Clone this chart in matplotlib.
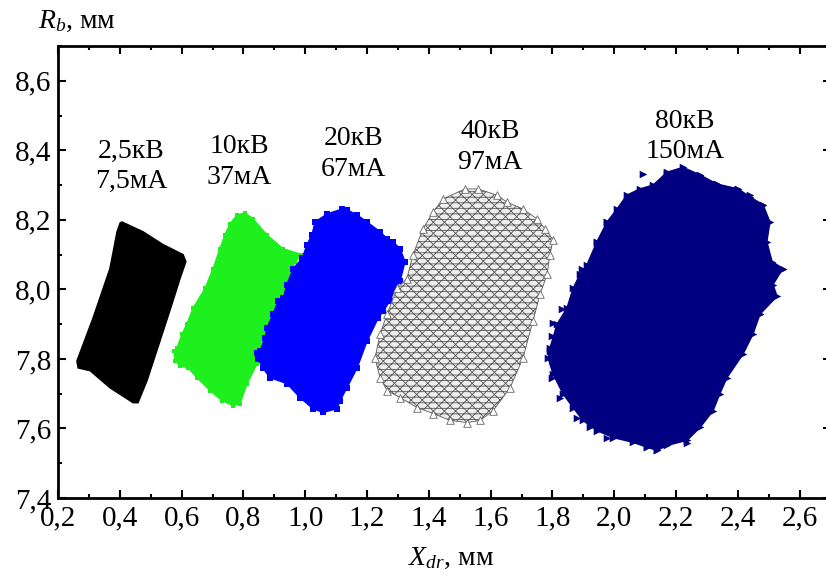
import matplotlib
matplotlib.use("Agg")
import matplotlib.pyplot as plt
from matplotlib.ticker import MultipleLocator, FuncFormatter

plt.rcParams['font.family'] = ['Liberation Serif', 'DejaVu Serif']
plt.rcParams['mathtext.fontset'] = 'custom'
plt.rcParams['mathtext.rm'] = 'Liberation Serif'
plt.rcParams['mathtext.it'] = 'Liberation Serif:italic'
plt.rcParams['hatch.linewidth'] = 0.6

# Outlines of each beam spot (X_dr, R_b).
x_25kv = [0.407, 0.475, 0.540, 0.605, 0.614, 0.595, 0.572, 0.530, 0.488, 0.459,
          0.443, 0.368, 0.304, 0.265, 0.261, 0.313, 0.368, 0.391, 0.401]
y_25kv = [8.194, 8.166, 8.129, 8.100, 8.080, 8.031, 7.966, 7.851, 7.737, 7.674,
          7.674, 7.717, 7.766, 7.774, 7.794, 7.917, 8.060, 8.166, 8.191]

x_10kv = [0.805, 0.779, 0.757, 0.740, 0.724, 0.702, 0.676, 0.637, 0.617, 0.601,
          0.585, 0.575, 0.579, 0.595, 0.621, 0.650, 0.692, 0.731, 0.766, 0.789,
          0.812, 0.844, 0.863, 0.918, 0.967, 0.990, 0.928, 0.876, 0.831]
y_10kv = [8.220, 8.214, 8.189, 8.157, 8.117, 8.060, 8.003, 7.946, 7.900, 7.871,
          7.831, 7.823, 7.794, 7.780, 7.774, 7.746, 7.709, 7.680, 7.666, 7.671,
          7.729, 7.786, 7.831, 7.966, 8.080, 8.100, 8.117, 8.157, 8.203]

x_20kv = [1.119, 1.071, 1.032, 1.022, 1.006, 0.990, 0.961, 0.941, 0.928, 0.912,
          0.896, 0.876, 0.870, 0.854, 0.844, 0.847, 0.863, 0.886, 0.941, 0.983,
          1.025, 1.058, 1.103, 1.113, 1.135, 1.168, 1.200, 1.236, 1.252, 1.274,
          1.291, 1.307, 1.323, 1.307, 1.284, 1.265, 1.242, 1.200, 1.168, 1.135]
y_20kv = [8.231, 8.217, 8.194, 8.157, 8.129, 8.089, 8.060, 8.014, 7.974, 7.966,
          7.929, 7.889, 7.860, 7.823, 7.817, 7.800, 7.774, 7.746, 7.729, 7.689,
          7.657, 7.646, 7.657, 7.680, 7.717, 7.774, 7.851, 7.917, 7.937, 7.966,
          8.003, 8.023, 8.080, 8.117, 8.137, 8.146, 8.166, 8.194, 8.214, 8.229]

x_40kv = [1.517, 1.559, 1.621, 1.653, 1.705, 1.750, 1.776, 1.802, 1.792, 1.783,
          1.760, 1.737, 1.705, 1.663, 1.608, 1.566, 1.524, 1.469, 1.414, 1.362,
          1.307, 1.265, 1.242, 1.226, 1.242, 1.265, 1.297, 1.329, 1.349, 1.381,
          1.414, 1.446]
y_40kv = [8.289, 8.289, 8.271, 8.251, 8.231, 8.203, 8.174, 8.143, 8.100, 8.043,
          7.986, 7.909, 7.803, 7.717, 7.651, 7.623, 7.617, 7.623, 7.643, 7.660,
          7.689, 7.709, 7.746, 7.803, 7.871, 7.929, 8.003, 8.031, 8.100, 8.174,
          8.223, 8.260]

x_80kv = [2.223, 2.278, 2.333, 2.401, 2.440, 2.482, 2.504, 2.494, 2.511, 2.546,
          2.514, 2.527, 2.472, 2.449, 2.417, 2.365, 2.342, 2.320, 2.278, 2.236,
          2.171, 2.139, 2.106, 2.061, 1.996, 1.944, 1.899, 1.867, 1.834, 1.802,
          1.786, 1.792, 1.815, 1.847, 1.867, 1.889, 1.912, 1.944, 1.977, 2.009,
          2.041, 2.083, 2.126, 2.171]
y_80kv = [8.351, 8.329, 8.303, 8.289, 8.266, 8.243, 8.194, 8.137, 8.080, 8.060,
          8.014, 7.980, 7.929, 7.871, 7.814, 7.746, 7.700, 7.651, 7.603, 7.566,
          7.551, 7.537, 7.546, 7.560, 7.574, 7.594, 7.623, 7.660, 7.700, 7.757,
          7.803, 7.831, 7.900, 7.946, 8.003, 8.043, 8.071, 8.137, 8.194, 8.231,
          8.271, 8.289, 8.300, 8.337]

# Stray points around the 80 kV spot
x_80kv_stray = [2.093, 2.171, 2.278, 2.333, 2.401, 2.440, 2.482, 2.494, 2.546,
                2.521, 2.472, 1.977, 1.944, 1.896, 1.889, 1.831, 1.802, 1.799,
                1.834, 1.792, 1.802, 1.799, 1.825, 1.880, 1.922, 1.977, 2.236,
                2.139, 2.106]
y_80kv_stray = [8.331, 8.331, 8.329, 8.303, 8.289, 8.271, 8.243, 8.194, 8.060,
                7.980, 7.929, 8.194, 8.137, 8.060, 8.003, 7.943, 7.903, 7.866,
                7.851, 7.823, 7.794, 7.746, 7.689, 7.629, 7.603, 7.574, 7.557,
                7.537, 7.546]

labels = ["2,5кВ\n7,5мА", "10кВ\n37мА", "20кВ\n67мА", "40кВ\n97мА", "80кВ\n150мА"]
label_x = [0.436, 0.786, 1.155, 1.598, 2.229]
label_y = [8.354, 8.366, 8.389, 8.409, 8.440]

fig = plt.figure(figsize=(8.26, 5.77), dpi=100)
ax = fig.add_axes([58 / 826, 1 - 498 / 577, (830.5 - 58) / 826, (498 - 46) / 577])

ax.fill(x_25kv, y_25kv, color='black', lw=1, zorder=2)
ax.fill(x_10kv, y_10kv, color='#1ef01e', lw=1, zorder=3)
ax.scatter(x_10kv, y_10kv, marker='s', s=12, color='#1ef01e', lw=0, zorder=3)
ax.fill(x_20kv, y_20kv, color='#0000ff', lw=1, zorder=4)
ax.scatter(x_20kv, y_20kv, marker='s', s=18, color='#0000ff', lw=0, zorder=4)
ax.fill(x_40kv, y_40kv, facecolor='#eeeeee', edgecolor='#5a5a5a',
        hatch='///\\\\\\---', lw=0.6, zorder=5)
ax.scatter(x_40kv, y_40kv, marker='^', s=30, facecolor='white',
           edgecolor='#666666', lw=0.6, zorder=5)
ax.fill(x_80kv, y_80kv, color='#000080', lw=1, zorder=6)
ax.scatter(x_80kv, y_80kv, marker='>', s=30, color='#000080', lw=0, zorder=6)
ax.scatter(x_80kv_stray, y_80kv_stray, marker='>', s=30, color='#000080', lw=0, zorder=6)

for txt, tx, ty in zip(labels, label_x, label_y):
    ax.text(tx, ty, txt, ha='center', va='center', fontsize=20, linespacing=1.3,
            zorder=7)

ax.set_xlim(0.2, 2.7)
ax.set_ylim(7.4, 8.7)
ax.xaxis.set_major_locator(MultipleLocator(0.2))
ax.xaxis.set_minor_locator(MultipleLocator(0.1))
ax.yaxis.set_major_locator(MultipleLocator(0.2))
ax.yaxis.set_minor_locator(MultipleLocator(0.1))
comma = FuncFormatter(lambda v, p: f"{v:.1f}".replace('.', ','))
ax.xaxis.set_major_formatter(comma)
ax.yaxis.set_major_formatter(comma)
ax.tick_params(which='both', direction='in', top=True, right=True,
               labelsize=21, width=1.5)
ax.tick_params(which='major', length=6, pad=5)
ax.tick_params(which='minor', length=3)
for sp in ax.spines.values():
    sp.set_linewidth(2)

fig.text(38 / 826, 1 - 28 / 577, "$R_b$, мм", fontsize=20, ha='left', va='baseline')
fig.text(408 / 826, 1 - 565 / 577, "$X_{dr}$, мм", fontsize=20, ha='left', va='baseline')

fig.savefig("out.png", dpi=100)
